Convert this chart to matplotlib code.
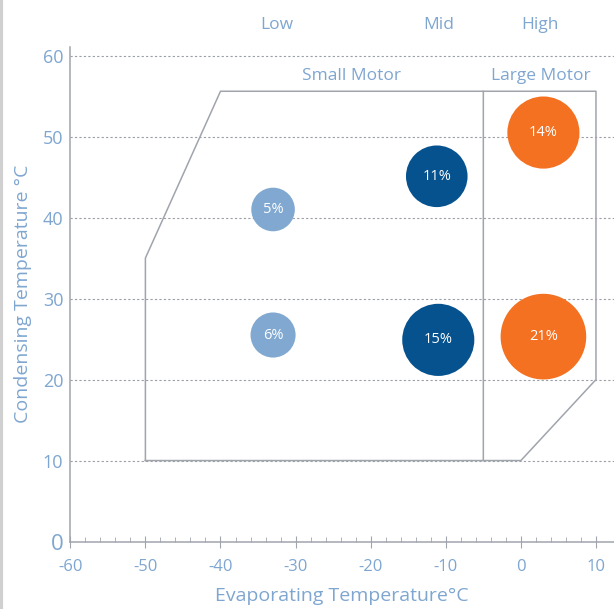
import matplotlib.pyplot as plt
import numpy as np
from matplotlib.patches import Ellipse

# bubble data
evap = [-33, -33, -11.2, -11, 3, 3]
cond = [41, 25.5, 45.1, 24.9, 50.5, 25.3]
labels = ['5%', '6%', '11%', '15%', '14%', '21%']
radius = [2.9, 3.0, 4.1, 4.8, 4.8, 5.7]   # in x-units
colors = ['#80a8d0', '#80a8d0', '#06528f', '#06528f', '#f37121', '#f37121']

# envelope outlines
small_x = [-50, -50, -40, -5, -5, -50]
small_y = [10, 35, 55.6, 55.6, 10, 10]
large_x = [-5, 10, 10, 0, -5]
large_y = [55.6, 55.6, 20, 10, 10]

band_names = ['Low', 'Mid', 'High']
band_x = [-32.5, -11, 2.5]

txt = '#7ea6d0'
line = '#a0a4ad'
plt.rcParams['font.family'] = ['Open Sans', 'DejaVu Sans']

fig = plt.figure(figsize=(6.14, 6.09), dpi=100)
ax = fig.add_axes([0.1145, 0.1108, 0.8855, 0.8125])
ax.set_xlim(-60, 12.4)
ax.set_ylim(0, 61.1)

for y in range(10, 61, 10):
    ax.axhline(y, color='#9a9ea6', lw=0.8, ls=(0, (2, 2)), zorder=0)

ax.plot(small_x, small_y, color=line, lw=1.1, zorder=1)
ax.plot(large_x, large_y, color=line, lw=1.1, zorder=1)

# keep circles round: x-units vs y-units pixel scale
xs = 7.517
ys = 8.1
for x, y, r, c, l in zip(evap, cond, radius, colors, labels):
    ax.add_patch(Ellipse((x, y), 2 * r, 2 * r * xs / ys, color=c, lw=0, zorder=3))
    ax.text(x, y, l, color='white', ha='center', va='center', fontsize=10.5, zorder=4)

ax.text(-22.5, 57.5, 'Small Motor', color=txt, ha='center', va='center', fontsize=12.5)
ax.text(2.7, 57.5, 'Large Motor', color=txt, ha='center', va='center', fontsize=12.5)
for n, x in zip(band_names, band_x):
    ax.text(x, 63.8, n, color=txt, ha='center', va='center', fontsize=12.5, clip_on=False)

for s in ['top', 'right']:
    ax.spines[s].set_visible(False)
for s in ['left', 'bottom']:
    ax.spines[s].set_color(line)
    ax.spines[s].set_linewidth(1.1)

ax.set_xticks(range(-60, 11, 10))
ax.set_xticklabels([str(v) for v in range(-60, 11, 10)])
ax.set_xticks(np.arange(-58, 12, 2), minor=True)
ax.tick_params(axis='x', which='major', direction='inout', length=9, color=line, labelcolor=txt, labelsize=12, pad=8)
ax.tick_params(axis='x', which='minor', direction='in', length=3.5, color=line)
ax.set_yticks(range(0, 61, 10))
ax.tick_params(axis='y', length=0, labelcolor=txt, labelsize=13, pad=5)
ax.get_yticklabels()[0].set_fontsize(16)

ax.set_xlabel('Evaporating Temperature°C', color=txt, fontsize=14, labelpad=9)
ax.set_ylabel('Condensing Temperature °C', color=txt, fontsize=14, labelpad=8)

fig.add_artist(plt.Line2D([0.002, 0.002], [0, 1], color='#d0d0d0', lw=3))

fig.savefig('out.png', dpi=100)
